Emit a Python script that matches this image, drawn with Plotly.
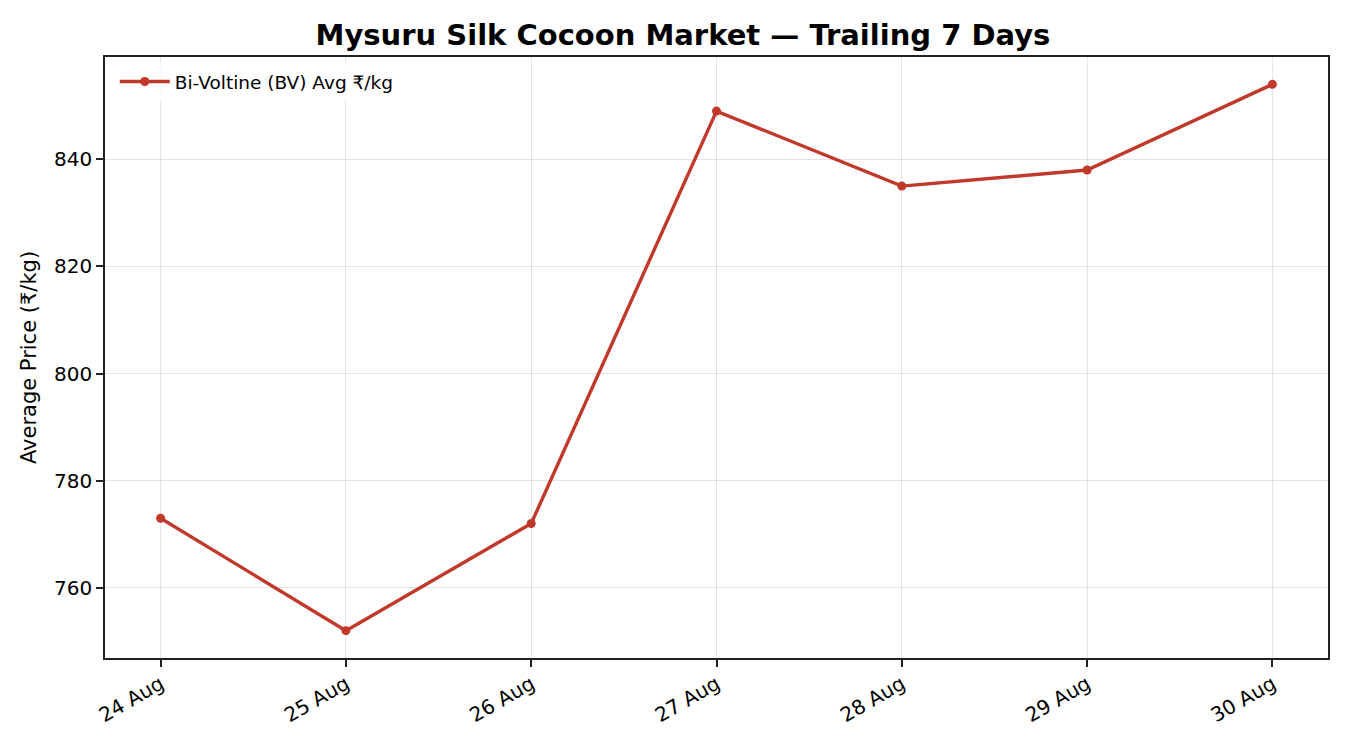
import plotly.graph_objects as go

days = ["24 Aug", "25 Aug", "26 Aug", "27 Aug", "28 Aug", "29 Aug", "30 Aug"]
bv_avg = [773, 752, 772, 849, 835, 838, 854]
y_ticks = [760, 780, 800, 820, 840]

line_col = "#c0392b"
axis_col = "#222222"

fig = go.Figure()
fig.add_trace(go.Scatter(
    x=list(range(len(days))), y=bv_avg,
    mode="lines+markers",
    name="Bi-Voltine (BV) Avg ₹/kg",
    line=dict(color=line_col, width=3.4),
    marker=dict(color=line_col, size=9),
))

# page puts the figure 8px in from the corner, so margins are offset
fig.update_layout(
    width=1350, height=750,
    paper_bgcolor="white", plot_bgcolor="white",
    font=dict(family="DejaVu Sans", color="black", size=20),
    title=dict(text="<b>Mysuru Silk Cocoon Market — Trailing 7 Days</b>",
               x=0.5, xanchor="center", y=0.964, yanchor="middle",
               font=dict(size=29)),
    margin=dict(l=97, r=30, t=49, b=100),
    showlegend=True,
    legend=dict(x=0.008, y=0.99, xanchor="left", yanchor="top",
                bgcolor="rgba(255,255,255,0.8)", font=dict(size=18.5),
                itemwidth=50),
)

fig.update_xaxes(
    range=[-0.3, 6.3],
    tickmode="array", tickvals=list(range(len(days))), ticktext=days,
    tickangle=-30, ticklabelstandoff=-2,
    showgrid=True, gridcolor="rgba(0,0,0,0.1)", gridwidth=1,
    showline=True, linecolor=axis_col, linewidth=1.5, mirror=True,
    ticks="outside", ticklen=7, tickcolor=axis_col, tickwidth=1.5,
    zeroline=False,
)
fig.update_yaxes(
    range=[746.9, 859.1],
    tickmode="array", tickvals=y_ticks,
    title=dict(text="Average Price (₹/kg)", font=dict(size=21), standoff=12),
    showgrid=True, gridcolor="rgba(0,0,0,0.1)", gridwidth=1,
    showline=True, linecolor=axis_col, linewidth=1.5, mirror=True,
    ticks="outside", ticklen=7, tickcolor=axis_col, tickwidth=1.5,
    zeroline=False,
)

fig.write_html("out.html")
